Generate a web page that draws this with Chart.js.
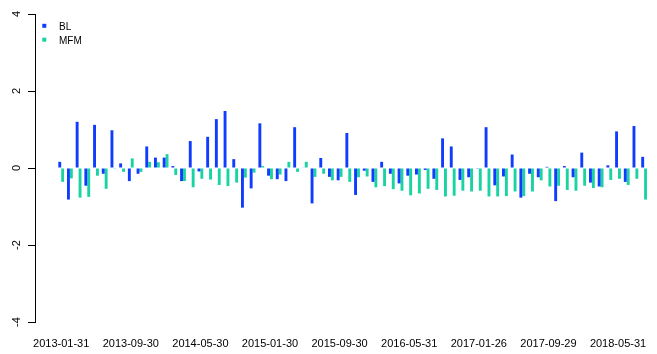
<!DOCTYPE html>
<html>
<head>
<meta charset="utf-8">
<script src="https://cdn.jsdelivr.net/npm/chart.js@4"></script>
<style>
  html, body { margin: 0; padding: 0; background: #fff; }
  canvas { display: block; }
</style>
</head>
<body>
<canvas id="chart" width="657" height="354"></canvas>
<script>
// month-end dates, one per group
const dates = [
  '2013-01-31','2013-02-28','2013-03-29','2013-04-30','2013-05-31','2013-06-28','2013-07-31','2013-08-30','2013-09-30','2013-10-31','2013-11-29','2013-12-31',
  '2014-01-30','2014-02-28','2014-03-31','2014-04-30','2014-05-30','2014-06-30','2014-07-31','2014-08-29','2014-09-30','2014-10-31','2014-11-28','2014-12-31',
  '2015-01-30','2015-02-27','2015-03-31','2015-04-30','2015-05-29','2015-06-30','2015-07-31','2015-08-31','2015-09-30','2015-10-30','2015-11-30','2015-12-31',
  '2016-01-29','2016-02-29','2016-03-31','2016-04-29','2016-05-31','2016-06-30','2016-07-29','2016-08-31','2016-09-30','2016-10-31','2016-11-30','2016-12-30',
  '2017-01-26','2017-02-28','2017-03-31','2017-04-28','2017-05-31','2017-06-30','2017-07-31','2017-08-31','2017-09-29','2017-10-31','2017-11-30','2017-12-29',
  '2018-01-31','2018-02-28','2018-03-30','2018-04-27','2018-05-31','2018-06-29','2018-07-31','2018-08-31'
]

const blValues = [
  0.16, -0.82, 1.20, -0.46, 1.12, -0.15, 0.98, 0.12, -0.34, -0.15, 0.56, 0.27,
  0.27, 0.05, -0.34, 0.70, -0.09, 0.81, 1.27, 1.48, 0.23, -1.03, -0.53, 1.16,
  -0.20, -0.29, -0.34, 1.06, 0.01, -0.92, 0.26, -0.23, -0.32, 0.91, -0.70, -0.07,
  -0.36, 0.16, -0.15, -0.40, -0.20, -0.17, -0.05, -0.28, 0.77, 0.56, -0.31, -0.24,
  -0.02, 1.06, -0.45, -0.22, 0.35, -0.77, -0.15, -0.24, 0.03, -0.86, 0.05, -0.24,
  0.40, -0.38, -0.48, 0.07, 0.95, -0.36, 1.09, 0.29
]

const mfmValues = [
  -0.36, -0.27, -0.77, -0.75, -0.20, -0.54, -0.02, -0.10, 0.25, -0.10, 0.16, 0.15,
  0.36, -0.18, -0.34, -0.50, -0.28, -0.30, -0.44, -0.47, -0.38, -0.25, -0.12, 0.05,
  -0.29, -0.17, 0.16, -0.10, 0.16, -0.23, -0.15, -0.32, -0.23, -0.36, -0.24, -0.22,
  -0.50, -0.47, -0.55, -0.59, -0.71, -0.66, -0.54, -0.57, -0.74, -0.72, -0.59, -0.61,
  -0.59, -0.74, -0.74, -0.73, -0.61, -0.73, -0.61, -0.32, -0.48, -0.46, -0.57, -0.59,
  -0.46, -0.52, -0.50, -0.31, -0.28, -0.44, -0.28, -0.82
]

const yTicks = [-4, -2, 0, 2, 4]
const labelEvery = 8

const FONT = '"Liberation Sans", Arial, sans-serif'
const BLUE = '#0f3cfe'
const TEAL = '#19d3a2'

// R-style rotated y labels and a plain legend
const rStyle = {
  id: 'rStyle',
  afterDraw(chart) {
    const ctx = chart.ctx
    const y = chart.scales.y
    ctx.save()
    ctx.fillStyle = '#000'
    ctx.font = '11px ' + FONT
    ctx.textAlign = 'center'
    ctx.textBaseline = 'middle'
    y.ticks.forEach(t => {
      ctx.save()
      ctx.translate(17, y.getPixelForValue(t.value))
      ctx.rotate(-Math.PI / 2)
      ctx.fillText(String(t.value), 0, 0)
      ctx.restore()
    })

    ctx.font = '10px ' + FONT
    ctx.textAlign = 'left'
    chart.data.datasets.forEach((ds, i) => {
      const cy = 25.8 + i * 13.9
      ctx.fillStyle = ds.backgroundColor
      ctx.fillRect(42.3, cy - 2, 4, 4)
      ctx.fillStyle = '#000'
      ctx.fillText(ds.label, 59, cy + 1.5)
    })
    ctx.restore()
  }
}

new Chart(document.getElementById('chart'), {
  type: 'bar',
  data: {
    datasets: [
      {
        label: 'BL',
        data: blValues.map((v, i) => ({ x: i, y: v })),
        backgroundColor: BLUE,
        borderWidth: 0
      },
      {
        label: 'MFM',
        data: mfmValues.map((v, i) => ({ x: i, y: v })),
        backgroundColor: TEAL,
        borderWidth: 0
      }
    ]
  },
  options: {
    responsive: false,
    animation: false,
    events: [],
    categoryPercentage: 2 / 3,
    barPercentage: 1,
    layout: { padding: { top: 14, left: 0, right: 0, bottom: 0 } },
    plugins: {
      legend: { display: false },
      tooltip: { enabled: false }
    },
    scales: {
      x: {
        type: 'linear',
        offset: false,
        min: -3.01,
        max: 68.48,
        grid: { display: false, drawTicks: false, offset: false },
        border: { display: false },
        afterBuildTicks(scale) {
          scale.ticks = dates
            .map((d, i) => i)
            .filter(i => i % labelEvery === 0)
            .map(i => ({ value: i }))
        },
        afterFit(scale) {
          scale.height = 32
          scale.paddingLeft = 0
          scale.paddingRight = 0
        },
        ticks: {
          autoSkip: false,
          maxRotation: 0,
          minRotation: 0,
          padding: 15,
          color: '#000',
          font: { family: FONT, size: 11 },
          callback: v => dates[v]
        }
      },
      y: {
        min: -4,
        max: 4,
        afterBuildTicks(scale) {
          scale.ticks = yTicks.map(v => ({ value: v }))
        },
        afterFit(scale) { scale.width = 35 },
        grid: {
          drawOnChartArea: false,
          drawTicks: true,
          tickLength: 7,
          color: '#000',
          lineWidth: 1
        },
        border: { display: true, color: '#000', width: 1 },
        ticks: { display: false }
      }
    }
  },
  plugins: [rStyle]
})
</script>
</body>
</html>
